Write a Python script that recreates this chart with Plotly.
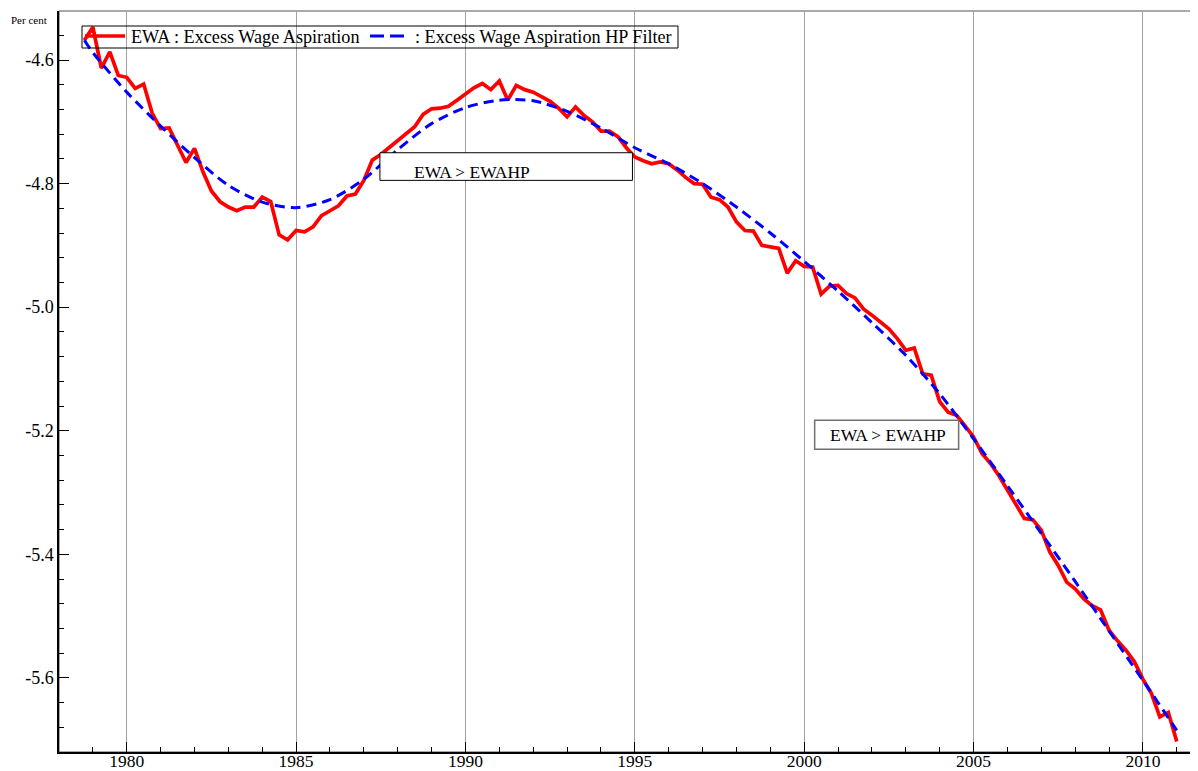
import numpy as np
import plotly.graph_objects as go

# Quarterly observations, 1978Q4 .. 2011Q1
quarters = np.arange(1978.75, 2011.01, 0.25)

ewa = [
    -4.568,
    -4.547, -4.613, -4.587, -4.625,   # 1979
    -4.628, -4.646, -4.639, -4.686,   # 1980
    -4.711, -4.710, -4.738, -4.766,   # 1981
    -4.743, -4.781, -4.812, -4.829,   # 1982
    -4.838, -4.844, -4.838, -4.838,   # 1983
    -4.822, -4.829, -4.883, -4.891,   # 1984
    -4.876, -4.878, -4.870, -4.852,   # 1985
    -4.844, -4.836, -4.820, -4.817,   # 1986
    -4.795, -4.762, -4.753, -4.742,   # 1987
    -4.730, -4.720, -4.708, -4.688,   # 1988
    -4.679, -4.678, -4.675, -4.665,   # 1989
    -4.655, -4.645, -4.638, -4.648,   # 1990
    -4.634, -4.665, -4.641, -4.648,   # 1991
    -4.652, -4.660, -4.667, -4.678,   # 1992
    -4.692, -4.676, -4.690, -4.700,   # 1993
    -4.715, -4.715, -4.724, -4.742,   # 1994
    -4.757, -4.763, -4.768, -4.765,   # 1995
    -4.768, -4.778, -4.790, -4.800,   # 1996
    -4.801, -4.822, -4.826, -4.838,   # 1997
    -4.862, -4.876, -4.877, -4.900,   # 1998
    -4.902, -4.905, -4.945, -4.925,   # 1999
    -4.934, -4.935, -4.979, -4.966,   # 2000
    -4.965, -4.978, -4.985, -5.003,   # 2001
    -5.013, -5.024, -5.035, -5.051,   # 2002
    -5.070, -5.066, -5.108, -5.110,   # 2003
    -5.153, -5.170, -5.175, -5.192,   # 2004
    -5.210, -5.237, -5.253, -5.273,   # 2005
    -5.296, -5.321, -5.342, -5.344,   # 2006
    -5.361, -5.396, -5.418, -5.445,   # 2007
    -5.456, -5.472, -5.483, -5.490,   # 2008
    -5.523, -5.540, -5.555, -5.574,   # 2009
    -5.602, -5.625, -5.663, -5.656,   # 2010
    -5.703,                           # 2011Q1
]

# HP-filtered trend (read at yearly points)
hp_years = [1978.75, 1979, 1980, 1981, 1982, 1983, 1984, 1985, 1986, 1987, 1988,
            1989, 1990, 1991, 1992, 1993, 1994, 1995, 1996, 1997, 1998, 1999,
            2000, 2001, 2002, 2003, 2004, 2005, 2006, 2007, 2008, 2009, 2010, 2011]
hp_vals = [-4.568, -4.588, -4.652, -4.707, -4.758, -4.803, -4.830, -4.839, -4.826,
           -4.793, -4.745, -4.703, -4.677, -4.665, -4.666, -4.683, -4.710, -4.742,
           -4.768, -4.800, -4.838, -4.880, -4.926, -4.974, -5.025, -5.078, -5.140,
           -5.213, -5.289, -5.366, -5.444, -5.524, -5.604, -5.685]

series_names = ["EWA : Excess Wage Aspiration", ": Excess Wage Aspiration HP Filter"]
series_colors = ["#ff0000", "#0000ff"]

ytick_vals = [-5.6, -5.4, -5.2, -5.0, -4.8, -4.6]
ytick_text = ["-5.6", "-5.4", "-5.2", "-5.0", "-4.8", "-4.6"]

FONT = "Liberation Serif, Times New Roman, serif"
OFF = 8  # default page body margin in the browser
W, H = 1198 - OFF, 771 - OFF
ML, MR, MT, MB = 59 - OFF, 6, 11 - OFF, 19
PW, PH = W - ML - MR, H - MT - MB


def px(xpix):
    return (xpix - OFF - ML) / PW


def py(ypix):
    return 1 - (ypix - OFF - MT) / PH


fig = go.Figure()
fig.add_trace(go.Scatter(
    x=quarters, y=ewa, mode="lines", name=series_names[0], showlegend=False,
    line=dict(color=series_colors[0], width=3.7)))
fig.add_trace(go.Scatter(
    x=hp_years, y=hp_vals, mode="lines", name=series_names[1], showlegend=False,
    line=dict(color=series_colors[1], width=3, dash="10px,6px", shape="spline", smoothing=0.8)))

# annotation boxes
boxes = [
    dict(x0=1987.475, x1=1994.93, y0=-4.7948, y1=-4.7501, tx=1988.43, ty=-4.7805, lc="#000000", lw=1),
    dict(x0=2000.31, x1=2004.56, y0=-5.230, y1=-5.183, tx=2000.70, ty=-5.2075, lc="#707070", lw=1.5),
]
for b in boxes:
    fig.add_shape(type="rect", xref="x", yref="y", x0=b["x0"], x1=b["x1"], y0=b["y0"], y1=b["y1"],
                  line=dict(color=b["lc"], width=b["lw"]), fillcolor="white", layer="above")
    fig.add_annotation(x=b["tx"], y=b["ty"], xref="x", yref="y", text="EWA &gt; EWAHP",
                       showarrow=False, xanchor="left", yanchor="middle",
                       font=dict(family=FONT, size=17.5, color="#000000"))

# frame top/right
fig.add_shape(type="rect", xref="paper", yref="paper", x0=0, x1=1, y0=0, y1=1,
              line=dict(color="#555555", width=1), layer="below")

# legend (drawn as box + samples + labels)
fig.add_shape(type="rect", xref="paper", yref="paper", x0=px(82), x1=px(678), y0=py(48), y1=py(26),
              line=dict(color="#000000", width=1), fillcolor="rgba(0,0,0,0)", layer="above")
fig.add_shape(type="line", xref="paper", yref="paper", x0=px(85), x1=px(125), y0=py(36), y1=py(36),
              line=dict(color=series_colors[0], width=3.7), layer="above")
fig.add_shape(type="line", xref="paper", yref="paper", x0=px(370), x1=px(406), y0=py(36), y1=py(36),
              line=dict(color=series_colors[1], width=3, dash="14px,6px"), layer="above")
fig.add_annotation(x=px(129), y=py(37), xref="paper", yref="paper", text=series_names[0],
                   showarrow=False, xanchor="left", yanchor="middle",
                   font=dict(family=FONT, size=18.2, color="#000000"))
fig.add_annotation(x=px(413), y=py(37), xref="paper", yref="paper", text=series_names[1],
                   showarrow=False, xanchor="left", yanchor="middle",
                   font=dict(family=FONT, size=18.2, color="#000000"))

fig.add_annotation(x=px(9), y=py(20.5), xref="paper", yref="paper",
                   text="Per cent", showarrow=False, xanchor="left", yanchor="middle",
                   font=dict(family=FONT, size=11, color="#000000"))

fig.update_layout(
    width=W, height=H,
    margin=dict(l=ML, r=MR, t=MT, b=MB),
    paper_bgcolor="white", plot_bgcolor="white",
    font=dict(family=FONT, size=17.5, color="#000000"),
    showlegend=False,
)

fig.update_xaxes(
    range=[1978.0, 2011.45], automargin=False, showline=True, linecolor="#000000", linewidth=1.5,
    tick0=1980, dtick=5, ticks="inside", ticklen=10, tickcolor="#000000", tickwidth=1,
    showgrid=True, gridcolor="#a0a0a0", gridwidth=1, zeroline=False,
    tickfont=dict(family=FONT, size=17.5), ticklabelstandoff=-8,
    minor=dict(tick0=1980, dtick=1, ticks="inside", ticklen=5, tickcolor="#000000", showgrid=False),
)
fig.update_yaxes(
    range=[-5.720, -4.5207], automargin=False, showline=True, linecolor="#000000", linewidth=1.5,
    tickmode="array", tickvals=ytick_vals, ticktext=ytick_text,
    ticks="inside", ticklen=10, tickcolor="#000000", tickwidth=1,
    showgrid=False, zeroline=False, tickfont=dict(family=FONT, size=18),
    minor=dict(tickmode="linear", tick0=-4.6, dtick=0.04, ticks="inside", ticklen=5,
               tickcolor="#000000", showgrid=False),
)

fig.write_html("out.html")
